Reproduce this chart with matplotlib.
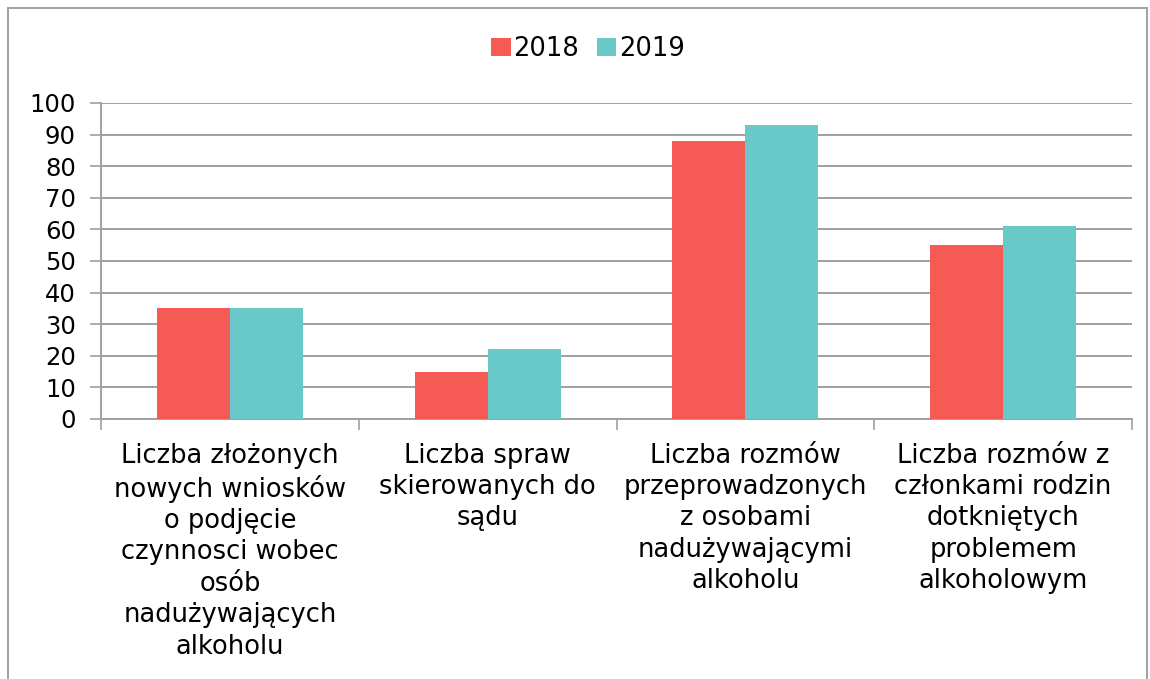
import matplotlib
matplotlib.use("Agg")
import matplotlib.pyplot as plt
import numpy as np
from matplotlib.patches import Rectangle

categories = [
    "Liczba złożonych\nnowych wniosków\no podjęcie\nczynnosci wobec\nosób\nnadużywających\nalkoholu",
    "Liczba spraw\nskierowanych do\nsądu",
    "Liczba rozmów\nprzeprowadzonych\nz osobami\nnadużywającymi\nalkoholu",
    "Liczba rozmów z\nczłonkami rodzin\ndotkniętych\nproblemem\nalkoholowym",
]
series_names = ["2018", "2019"]
values_2018 = [35, 15, 88, 55]
values_2019 = [35, 22, 93, 61]
yticks = [0, 10, 20, 30, 40, 50, 60, 70, 80, 90, 100]

red = "#F55A55"
teal = "#69C8C8"
grid_c = "#A0A0A0"

plt.rcParams['font.family'] = ['DejaVu Sans']

fig = plt.figure(figsize=(11.5, 6.79), dpi=100)
ax = fig.add_axes([101 / 1150, 1 - 419 / 679, 1031 / 1150, 316 / 679])

x = np.arange(len(categories))
w = 0.283
ax.bar(x - w / 2, values_2018, w, color=red, label=series_names[0], zorder=3)
ax.bar(x + w / 2, values_2019, w, color=teal, label=series_names[1], zorder=3)

ax.set_xlim(-0.5, len(categories) - 0.5)
ax.set_ylim(0, 100)
ax.set_yticks(yticks)
ax.tick_params(axis='y', labelsize=17.5, length=8, width=1.2, color=grid_c, pad=10)
ax.yaxis.grid(True, color=grid_c, linewidth=1.4, zorder=0)

ax.set_xticks(x)
ax.set_xticklabels(categories, fontsize=18.5, linespacing=1.27)
ax.tick_params(axis='x', length=0, pad=17)
ax.set_xticks(np.arange(len(categories) + 1) - 0.5, minor=True)
ax.tick_params(axis='x', which='minor', length=8, width=1.2, color=grid_c)

for s in ['top', 'right']:
    ax.spines[s].set_visible(False)
for s in ['left', 'bottom']:
    ax.spines[s].set_color(grid_c)
    ax.spines[s].set_linewidth(1.4)

fig.legend(loc='center', bbox_to_anchor=(588 / 1150, 1 - 49 / 679), ncol=2, frameon=False,
           fontsize=18.5, handlelength=0.75, handleheight=0.75, handletextpad=0.1,
           columnspacing=0.7)

fig.patches.append(Rectangle((8 / 1150, -0.1), 1139 / 1150, 1.1 - 8 / 679,
                             transform=fig.transFigure, fill=False,
                             edgecolor=grid_c, linewidth=1.4))

fig.savefig("out.png", dpi=100, facecolor="white")
